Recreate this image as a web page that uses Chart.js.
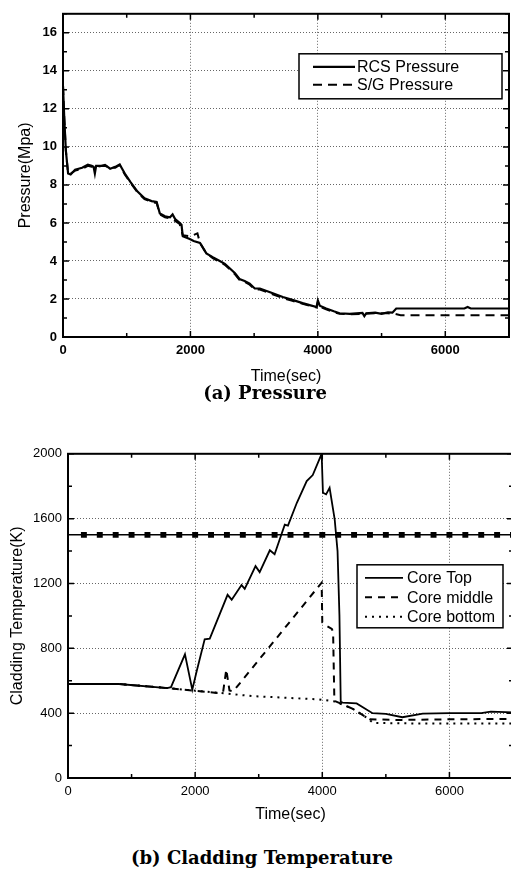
<!DOCTYPE html>
<html>
<head>
<meta charset="utf-8">
<title>Pressure / Cladding Temperature</title>
<script src="https://cdn.jsdelivr.net/npm/chart.js@4.4.0/dist/chart.umd.min.js"></script>
<style>
    html, body { margin: 0; padding: 0; background: #fff; }
    body { width: 511px; height: 871px; overflow: hidden; position: relative; }
    canvas { position: absolute; left: 0; }
    #pressureChart { top: 0; }
    #tempChart { top: 440px; }
    .caption {
        position: absolute;
        font-family: "DejaVu Serif", "Liberation Serif", serif;
        font-weight: bold;
        font-size: 18px;
        line-height: 20px;
        white-space: nowrap;
        transform: translateX(-50%);
        color: #000;
    }
</style>
</head>
<body>
<canvas id="pressureChart" width="511" height="392"></canvas>
<div class="caption" style="left:265px; top:383px;">(a) Pressure</div>
<canvas id="tempChart" width="520" height="390"></canvas>
<div class="caption" style="left:262px; top:848px;">(b) Cladding Temperature</div>

<script>
// ---- (a) presion RCS / S/G (MPa) ----
const rcsTime = [0, 20, 45, 80, 120, 190, 300, 390, 450, 480,
    500, 520, 600, 660, 740, 820, 890, 970, 1060, 1170,
    1280, 1390, 1470, 1520, 1600, 1680, 1720, 1760, 1830, 1860,
    1880, 1990, 2050, 2150, 2250, 2350, 2460, 2540, 2620, 2700,
    2770, 2850, 2930, 3010, 3090, 3250, 3450, 3600, 3760, 3900,
    3980, 4000, 4030, 4130, 4250, 4340, 4500, 4700, 4730, 4760,
    4900, 5000, 5100, 5170, 5230, 5500, 6000, 6300, 6350, 6400,
    7000];
const rcsPressure = [13.2, 11.5, 9.8, 8.6, 8.55, 8.8, 8.9, 9.06, 9.0, 8.95,
    8.6, 9.0, 9.0, 9.05, 8.85, 8.95, 9.08, 8.6, 8.15, 7.65,
    7.3, 7.15, 7.1, 6.5, 6.35, 6.3, 6.45, 6.2, 6.0, 5.9,
    5.3, 5.15, 5.05, 4.95, 4.4, 4.2, 4.0, 3.85, 3.6, 3.35,
    3.05, 2.95, 2.8, 2.55, 2.55, 2.35, 2.1, 1.95, 1.78, 1.65,
    1.58, 1.92, 1.65, 1.5, 1.35, 1.25, 1.22, 1.27, 1.1, 1.25,
    1.28, 1.22, 1.3, 1.28, 1.5, 1.5, 1.5, 1.5, 1.58, 1.5,
    1.5];

const sgTime = [0, 20, 45, 80, 120, 190, 300, 390, 450, 520,
    600, 660, 740, 820, 890, 970, 1060, 1170, 1280, 1390,
    1470, 1520, 1600, 1720, 1830, 1880, 2000, 2110, 2150, 2250,
    2350, 2460, 2540, 2620, 2700, 2770, 2850, 2930, 3010, 3090,
    3250, 3450, 3600, 3760, 3900, 3980, 4000, 4030, 4130, 4250,
    4340, 4500, 4700, 4900, 5100, 5200, 5300, 6000, 6500, 7000];
const sgPressure = [13.2, 11.5, 9.8, 8.6, 8.6, 8.75, 8.85, 9.0, 8.95, 8.95,
    9.0, 9.0, 8.9, 8.9, 9.05, 8.55, 8.1, 7.6, 7.25, 7.1,
    7.05, 6.45, 6.3, 6.2, 5.95, 5.35, 5.3, 5.45, 4.95, 4.4,
    4.15, 3.95, 3.8, 3.55, 3.3, 3.0, 2.9, 2.75, 2.5, 2.5,
    2.3, 2.05, 1.9, 1.75, 1.62, 1.55, 1.85, 1.6, 1.45, 1.3,
    1.22, 1.2, 1.22, 1.25, 1.25, 1.22, 1.15, 1.15, 1.15, 1.15];

// ---- (b) temperatura de vaina (K) ----
const topTime = [0, 800, 1560, 1620, 1840, 1955, 2025, 2150, 2230, 2510,
    2575, 2730, 2780, 2950, 3015, 3175, 3250, 3410, 3460, 3600,
    3755, 3850, 3990, 4010, 4060, 4115, 4195, 4240, 4270, 4290,
    4320, 4540, 4790, 5000, 5260, 5580, 6000, 6500, 6650, 7000];
const coreTop = [580, 580, 555, 560, 763, 545, 660, 855, 860, 1130,
    1100, 1190, 1167, 1307, 1270, 1405, 1380, 1563, 1557, 1698,
    1832, 1869, 2000, 1760, 1750, 1790, 1595, 1400, 1000, 470,
    465, 460, 400, 395, 375, 397, 400, 400, 410, 405];

const midTime = [0, 800, 1560, 1960, 2340, 2440, 2490, 2540, 2600, 3990,
    4000, 4040, 4150, 4170, 4190, 4480, 4745, 5200, 6000, 7000];
const coreMiddle = [580, 580, 555, 540, 525, 530, 670, 540, 535, 1205,
    960, 945, 920, 900, 476, 427, 362, 358, 362, 365];

const botTime = [0, 800, 1560, 1960, 2400, 2900, 3950, 4200, 4480, 4700, 4800, 5500, 7000];
const coreBottom = [580, 580, 555, 540, 525, 505, 485, 472, 427, 372, 340, 336, 336];

// limite de 1500 K con marcadores cada 250 s
const limitTime = [0, 250, 500, 750, 1000, 1250, 1500, 1750, 2000, 2250,
    2500, 2750, 3000, 3250, 3500, 3750, 4000, 4250, 4500, 4750,
    5000, 5250, 5500, 5750, 6000, 6250, 6500, 6750, 7000];
const limitTemp = 1500;

// marcas de los ejes
const timeTicks = [0, 2000, 4000, 6000];
const pressureTicks = [0, 2, 4, 6, 8, 10, 12, 14, 16];
const tempTicks = [0, 400, 800, 1200, 1600, 2000];

const toPoints = (xs, ys) => xs.map((x, i) => ({ x: x, y: ys[i] }));

Chart.defaults.font.family = '"Liberation Sans", Arial, sans-serif';
Chart.defaults.color = '#000';

// marco negro con marcas hacia dentro en los cuatro lados
const framePlugin = {
    id: 'frame',
    afterDraw(chart, args, opts) {
        const { ctx, chartArea: a, scales: { x, y } } = chart;
        ctx.save();
        ctx.strokeStyle = '#000';
        ctx.setLineDash([]);
        ctx.lineWidth = 1.5;
        ctx.beginPath();
        for (let v = x.min; v <= x.max; v += opts.minorX) {
            const px = x.getPixelForValue(v);
            const len = v % opts.majorX === 0 ? 6 : 4;
            ctx.moveTo(px, a.bottom); ctx.lineTo(px, a.bottom - len);
            ctx.moveTo(px, a.top); ctx.lineTo(px, a.top + len);
        }
        for (let v = y.min; v <= y.max; v += opts.minorY) {
            const py = y.getPixelForValue(v);
            const len = v % opts.majorY === 0 ? 6 : 4;
            ctx.moveTo(a.left, py); ctx.lineTo(a.left + len, py);
            ctx.moveTo(a.right, py); ctx.lineTo(a.right - len, py);
        }
        ctx.stroke();
        ctx.lineWidth = 2;
        ctx.strokeRect(a.left, a.top, a.right - a.left, a.bottom - a.top);
        ctx.restore();
    }
};

// leyenda en recuadro dentro del area del grafico
const boxLegend = {
    id: 'boxLegend',
    afterDraw(chart, args, opts) {
        const { ctx, chartArea: a } = chart;
        const items = chart.data.datasets.filter(d => d.label);
        const left = a.right - opts.right - opts.width;
        const top = a.top + opts.top;
        ctx.save();
        ctx.fillStyle = '#fff';
        ctx.fillRect(left, top, opts.width, opts.height);
        ctx.strokeStyle = '#000';
        ctx.lineWidth = 1.5;
        ctx.strokeRect(left, top, opts.width, opts.height);
        ctx.font = '16px "Liberation Sans", Arial, sans-serif';
        ctx.textBaseline = 'middle';
        ctx.fillStyle = '#000';
        items.forEach((d, i) => {
            const cy = top + opts.firstRow + i * opts.rowGap;
            ctx.setLineDash(d.borderDash || []);
            ctx.lineWidth = d.borderWidth;
            ctx.beginPath();
            ctx.moveTo(left + opts.sampleStart, cy);
            ctx.lineTo(left + opts.sampleEnd, cy);
            ctx.stroke();
            ctx.setLineDash([]);
            ctx.fillText(d.label, left + opts.textStart, cy + 1);
        });
        ctx.restore();
    }
};

function linearAxis(min, max, tickValues, fontWeight, pad, title, titlePad, size, horizontal) {
    return {
        type: 'linear',
        min: min,
        max: max,
        afterBuildTicks: s => { s.ticks = tickValues.map(v => ({ value: v })); },
        afterFit: s => { if (horizontal) s.height = size; else s.width = size; },
        ticks: {
            padding: pad,
            font: { size: 13, weight: fontWeight },
            color: '#000',
            callback: v => String(v)   // sin separador de miles
        },
        grid: { color: '#666', lineWidth: 1, drawTicks: false },
        border: { display: false, dash: [1, 2] },
        title: { display: true, text: title, font: { size: 16 }, color: '#000', padding: titlePad }
    };
}

const lineBase = { pointRadius: 0, tension: 0, fill: false, borderColor: '#000', backgroundColor: '#000' };

// Grafico (a)
new Chart(document.getElementById('pressureChart'), {
    type: 'line',
    data: {
        datasets: [
            Object.assign({ label: 'RCS Pressure', data: toPoints(rcsTime, rcsPressure), borderWidth: 2.2 }, lineBase),
            Object.assign({ label: 'S/G Pressure', data: toPoints(sgTime, sgPressure), borderWidth: 2, borderDash: [9, 6] }, lineBase)
        ]
    },
    options: {
        responsive: false,
        animation: false,
        layout: { padding: { top: 12, right: 2, left: 0, bottom: 0 } },
        scales: {
            x: linearAxis(0, 7000, timeTicks, 'bold', 6, 'Time(sec)', { top: 0, bottom: 6 }, 55, true),
            y: linearAxis(0, 17, pressureTicks, 'bold', 6, 'Pressure(Mpa)', { top: 16, bottom: 0 }, 63, false)
        },
        plugins: {
            legend: { display: false },
            tooltip: { enabled: false },
            frame: { minorX: 1000, majorX: 2000, minorY: 1, majorY: 2 },
            boxLegend: { right: 7, width: 203, top: 40, height: 45, firstRow: 13, rowGap: 18,
                         sampleStart: 14, sampleEnd: 56, textStart: 58 }
        }
    },
    plugins: [framePlugin, boxLegend]
});

// Grafico (b)
new Chart(document.getElementById('tempChart'), {
    type: 'line',
    data: {
        datasets: [
            Object.assign({ label: 'Core Top', data: toPoints(topTime, coreTop), borderWidth: 1.8 }, lineBase),
            Object.assign({ label: 'Core middle', data: toPoints(midTime, coreMiddle), borderWidth: 2, borderDash: [7, 6] }, lineBase),
            Object.assign({ label: 'Core bottom', data: toPoints(botTime, coreBottom), borderWidth: 2, borderDash: [2, 5] }, lineBase),
            Object.assign({}, lineBase, {
                data: limitTime.map(t => ({ x: t, y: limitTemp })),
                borderWidth: 1.5,
                pointStyle: 'rect',
                pointRadius: c => (c.raw && c.raw.x === 0 ? 0 : 4.2),
                pointBorderWidth: 0
            })
        ]
    },
    options: {
        responsive: false,
        animation: false,
        layout: { padding: { top: 10, right: 7, left: 0, bottom: 0 } },
        scales: {
            x: linearAxis(0, 7000, timeTicks, 'normal', 6, 'Time(sec)', { top: 0, bottom: 6 }, 52, true),
            y: linearAxis(0, 2000, tempTicks, 'normal', 6, 'Cladding Temperature(K)', { top: 8, bottom: 0 }, 68, false)
        },
        plugins: {
            legend: { display: false },
            tooltip: { enabled: false },
            frame: { minorX: 1000, majorX: 2000, minorY: 200, majorY: 400 },
            boxLegend: { right: 10, width: 146, top: 111, height: 63, firstRow: 13, rowGap: 19.5,
                         sampleStart: 8, sampleEnd: 46, textStart: 50 }
        }
    },
    plugins: [framePlugin, boxLegend]
});
</script>
</body>
</html>
